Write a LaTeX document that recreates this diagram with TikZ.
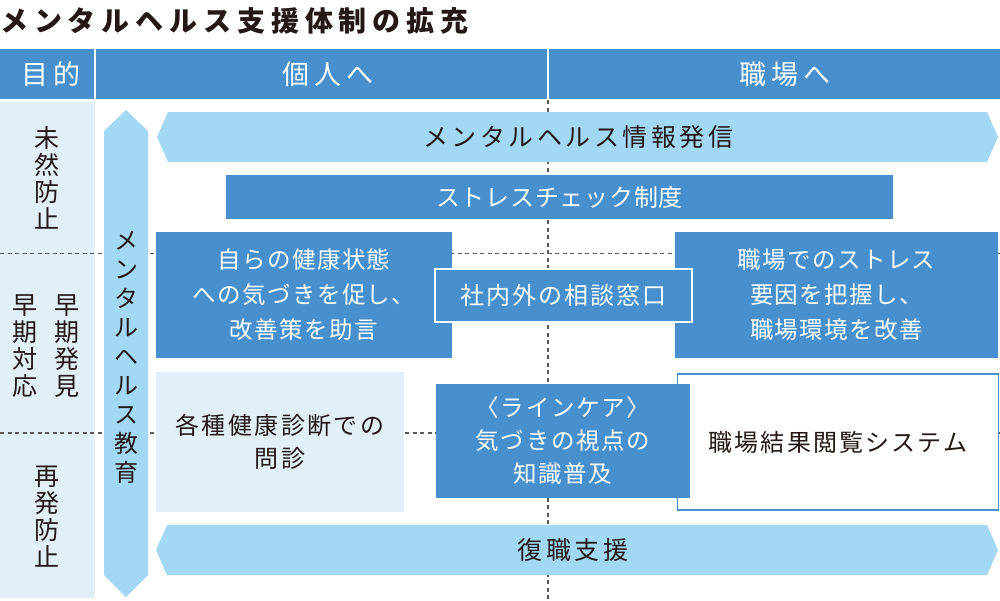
\documentclass[tikz,border=0pt]{standalone}
\usepackage{fontspec}
\setmainfont{Noto Sans CJK JP}
\newfontfamily\cjk{Noto Sans CJK JP}
\definecolor{dblue}{HTML}{4790CD}
\definecolor{larrow}{HTML}{A3D8F5}
\definecolor{lbg}{HTML}{E2EFF8}
\definecolor{ink}{HTML}{231815}
\newcommand{\fs}[3]{\fontsize{#1}{#2}\selectfont\addfontfeature{LetterSpace=#3}}
\begin{document}
\begin{tikzpicture}[x=1pt,y=-1pt,
  dline/.style={draw=black!65, line width=1.1pt, dash pattern=on 4pt off 3.5pt},
  dbox/.style={fill=dblue, text=white, inner sep=0pt, align=center},
  hdr/.style={text=white, inner sep=0pt, font=\cjk\fs{27}{30}{20}},
  coltext/.style={text=ink, inner sep=0pt, align=center, font=\cjk\fs{25}{27}{0}},
]
\useasboundingbox (0,0) rectangle (1000,600);
% title
\node[anchor=west, inner sep=0pt, text=ink, font=\cjk\bfseries\fs{28}{30}{21}] (title) at (0,21) {メンタルヘルス支援体制の拡充};
% header
\fill[dblue] (0,49) rectangle (94,99);
\fill[dblue] (96,49) rectangle (547,99);
\fill[dblue] (549,49) rectangle (1000,99);
\node[hdr] (h1) at (51,74) {目的};
\node[hdr] (h2) at (328,74) {個人へ};
\node[hdr] (h3) at (785,74) {職場へ};
% left column
\fill[lbg] (0,102) rectangle (95,598);
% dashed grid
\draw[dline] (0,253.5) -- (1000,253.5);
\draw[dline] (0,433) -- (1000,433);
\draw[dline] (548,100) -- (548,600);
% left column labels
\node[coltext] (c1) at (47,178) {未\\然\\防\\止};
\node[coltext] (c2) at (67,346) {早\\期\\発\\見};
\node[coltext] (c3) at (25,346) {早\\期\\対\\応};
\node[coltext] (c4) at (47,517) {再\\発\\防\\止};
% vertical arrow
\fill[larrow] (126,110) -- (148,131) -- (148,575) -- (126,597) -- (104,575) -- (104,131) -- cycle;
\node[coltext, font=\cjk\fs{24}{29}{0}] (va) at (126,357) {メ\\ン\\タ\\ル\\ヘ\\ル\\ス\\教\\育};
% info arrow
\fill[larrow] (157,137) -- (168,112) -- (987,112) -- (998,137) -- (987,162) -- (168,162) -- cycle;
\node[text=ink, inner sep=0pt, font=\cjk\fs{25}{27}{14}] (info) at (578,137) {メンタルヘルス情報発信};
% stress check
\node[dbox, minimum width=667pt, minimum height=44pt, font=\cjk\fs{24}{27}{3}] (stress) at (559.5,197) {ストレスチェック制度};
% boxes
\node[dbox, minimum width=296pt, minimum height=126pt, font=\cjk\fs{23.5}{35}{6}] (self) at (304,295) {自らの健康状態\\への気づきを促し、\\改善策を助言};
\node[dbox, minimum width=323pt, minimum height=126pt, font=\cjk\fs{23.5}{35}{6}] (work) at (836.5,295) {職場でのストレス\\要因を把握し、\\職場環境を改善};
\node[dbox, draw=white, line width=2pt, minimum width=257pt, minimum height=53pt, font=\cjk\fs{24}{27}{8}] (soudan) at (563.5,295.5) {社内外の相談窓口};
\node[fill=lbg, text=ink, inner sep=0pt, align=center, minimum width=248pt, minimum height=140pt, font=\cjk\fs{24}{33}{10}] (kenshin) at (280,442) {各種健康診断での\\問診};
\node[fill=white, draw=dblue, line width=1.5pt, text=ink, inner sep=0pt, minimum width=321pt, minimum height=136pt, font=\cjk\fs{24}{27}{9}] (kekka) at (838,442) {職場結果閲覧システム};
\node[dbox, minimum width=254pt, minimum height=114pt, font=\cjk\fs{23.5}{33}{7}] (line) at (563,441) {〈ラインケア〉\\気づきの視点の\\知識普及};
% return-to-work arrow
\fill[larrow] (156,550) -- (167,525) -- (987,525) -- (998,550) -- (987,575) -- (167,575) -- cycle;
\node[text=ink, inner sep=0pt, font=\cjk\fs{25}{27}{14}] (fukki) at (573,550) {復職支援};
\end{tikzpicture}
\end{document}
